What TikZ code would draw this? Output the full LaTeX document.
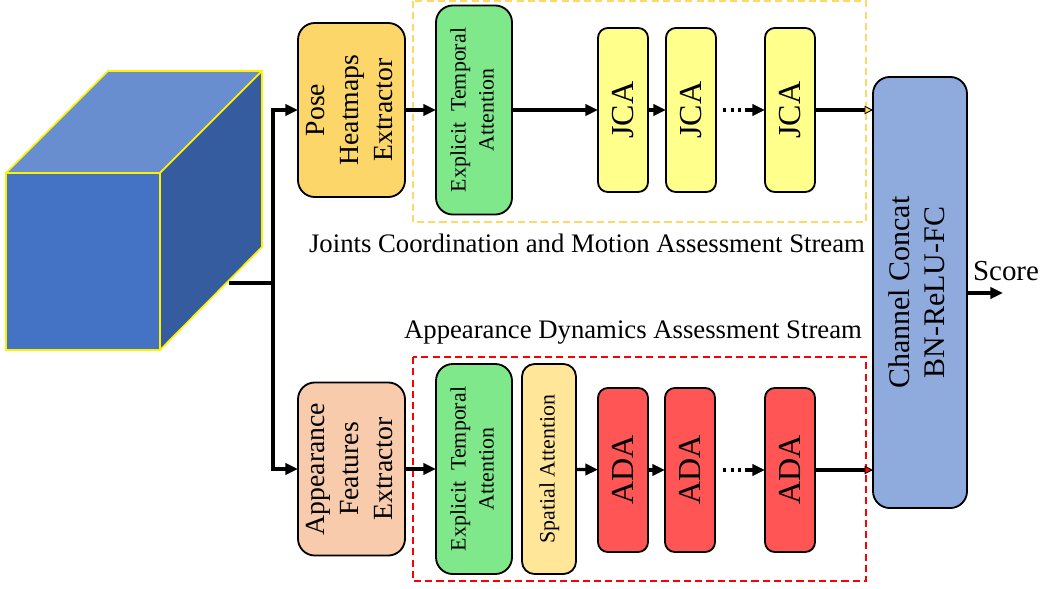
\documentclass[tikz,border=0pt]{standalone}
\usepackage{fontspec}
\setmainfont{Liberation Serif}
\usepackage{graphicx}
\usetikzlibrary{arrows.meta}

\definecolor{cubefront}{HTML}{4472C4}
\definecolor{cubetop}{HTML}{698ECF}
\definecolor{cubeside}{HTML}{355C9E}
\definecolor{posefill}{HTML}{FDD66A}
\definecolor{appfill}{HTML}{F8CBAD}
\definecolor{etafill}{HTML}{7EE88A}
\definecolor{spatfill}{HTML}{FFE699}
\definecolor{jcafill}{HTML}{FFFF8C}
\definecolor{adafill}{HTML}{FF5555}
\definecolor{catfill}{HTML}{8FAADC}
\definecolor{dashyellow}{HTML}{FFD966}
\definecolor{dashred}{HTML}{FF0000}

\newcommand{\vlabel}[1]{\rotatebox{90}{\begin{tabular}{@{}c@{}}#1\end{tabular}}}

\begin{document}
\begin{tikzpicture}[x=0.025cm,y=-0.025cm]
	\tikzstyle{blk}=[draw=black,line width=1.3pt,rounded corners=12pt,inner sep=0pt,outer sep=0pt]
	\tikzstyle{small}=[blk,rounded corners=7pt,minimum width=1.25cm,minimum height=4.1cm,font=\fontsize{22.8}{26}\selectfont]
	\tikzstyle{arrow}=[-{Triangle[length=9pt,width=8pt]},line width=2.3pt]
	\tikzstyle{stream}=[draw,dashed,dash pattern=on 5pt off 3pt,line width=1.2pt]
	\tikzstyle{dots}=[line width=3pt,dash pattern=on 2.2pt off 3.2pt]
	\useasboundingbox (0,0) rectangle (1045,588);
	% input video cube
	\filldraw[cubetop,draw=yellow,line width=1.2pt,line join=round] (6,173) -- (108,71) -- (262,71) -- (160,173) -- cycle;
	\filldraw[cubeside,draw=yellow,line width=1.2pt,line join=round] (160,173) -- (262,71) -- (262,247) -- (160,350) -- cycle;
	\filldraw[cubefront,draw=yellow,line width=1.2pt,line join=round] (6,173) rectangle (160,350);
	% stream frames
	\draw[stream,dashyellow] (413,1) rectangle (866,222);
	\draw[stream,dashred] (413,357) rectangle (866,581);
	% blocks
	\node (pose) [blk,fill=posefill,minimum width=2.675cm,minimum height=4.35cm,font=\fontsize{19.7}{24.2}\selectfont] at (351.5,110) {\vlabel{Pose\\Heatmaps\\Extractor}};
	\node (appear) [blk,fill=appfill,minimum width=2.675cm,minimum height=4.325cm,font=\fontsize{19.7}{24.2}\selectfont] at (351.5,469) {\vlabel{Appearance\\Features\\Extractor}};
	\node (eta1) [blk,fill=etafill,minimum width=1.9cm,minimum height=5.225cm,font=\fontsize{15.6}{20}\selectfont] at (474,110) {\vlabel{Explicit~~Temporal\\Attention}};
	\node (eta2) [blk,fill=etafill,minimum width=1.9cm,minimum height=5.25cm,font=\fontsize{15.6}{20}\selectfont] at (474,469) {\vlabel{Explicit~~Temporal\\Attention}};
	\node (spat) [blk,rounded corners=9pt,fill=spatfill,minimum width=1.35cm,minimum height=5.25cm,font=\fontsize{15.6}{20}\selectfont] at (549,469) {\vlabel{Spatial Attention}};
	\node (jca1) [small,fill=jcafill] at (623,110) {\rotatebox{90}{JCA}};
	\node (jca2) [small,fill=jcafill] at (691,110) {\rotatebox{90}{JCA}};
	\node (jca3) [small,fill=jcafill] at (790,110) {\rotatebox{90}{JCA}};
	\node (ada1) [small,fill=adafill] at (623,470) {\rotatebox{90}{ADA}};
	\node (ada2) [small,fill=adafill] at (690,470) {\rotatebox{90}{ADA}};
	\node (ada3) [small,fill=adafill] at (790,470) {\rotatebox{90}{ADA}};
	\node (jdots) [inner sep=0pt,minimum width=0.43cm] at (732,110) {};
	\node (adots) [inner sep=0pt,minimum width=0.43cm] at (732,470) {};
	\node (concat) [blk,fill=catfill,minimum width=2.35cm,minimum height=10.775cm,font=\fontsize{21.3}{25}\selectfont] at (920,292.5) {\vlabel{Channel Concat\\BN-ReLU-FC}};
	% labels
	\node (jlabel) [font=\fontsize{19}{22}\selectfont] at (587,243) {Joints Coordination and Motion Assessment Stream};
	\node (alabel) [font=\fontsize{19}{22}\selectfont] at (633,333) {Appearance Dynamics Assessment Stream};
	\node (score) [font=\fontsize{20.6}{24}\selectfont] at (1006,271) {Score};
	% connectors
	\coordinate (cubeout) at (229,283);
	\coordinate (split) at (273,283);
	\coordinate (scoreend) at (1003,293);
	\draw[line width=2.6pt] (cubeout) -- (split);
	\draw[arrow,line width=2.6pt] (split) |- (pose.west);
	\draw[arrow,line width=2.6pt] (split) |- (appear.west);
	\draw[arrow] (pose) -- (eta1);
	\draw[arrow] (eta1) -- (jca1);
	\draw[arrow] (jca1) -- (jca2);
	\draw[dots] (jdots.west) -- (jdots.east);
	\draw[arrow,shorten <=3pt] (jdots.east) -- (jca3.west);
	\draw[-{Triangle[length=6pt,width=6pt,fill=dashyellow,line width=0.6pt]},line width=2.3pt] (jca3) -- (jca3 -| concat.west);
	\draw[arrow] (appear) -- (eta2);
	\draw[arrow] (spat) -- (ada1);
	\draw[arrow] (ada1) -- (ada2);
	\draw[dots] (adots.west) -- (adots.east);
	\draw[arrow,shorten <=3pt] (adots.east) -- (ada3.west);
	\draw[-{Triangle[length=6pt,width=6pt,fill=dashred,line width=0.6pt]},line width=2.3pt] (ada3) -- (ada3 -| concat.west);
	\draw[arrow] (concat.east |- scoreend) -- (scoreend);
\end{tikzpicture}
\end{document}
